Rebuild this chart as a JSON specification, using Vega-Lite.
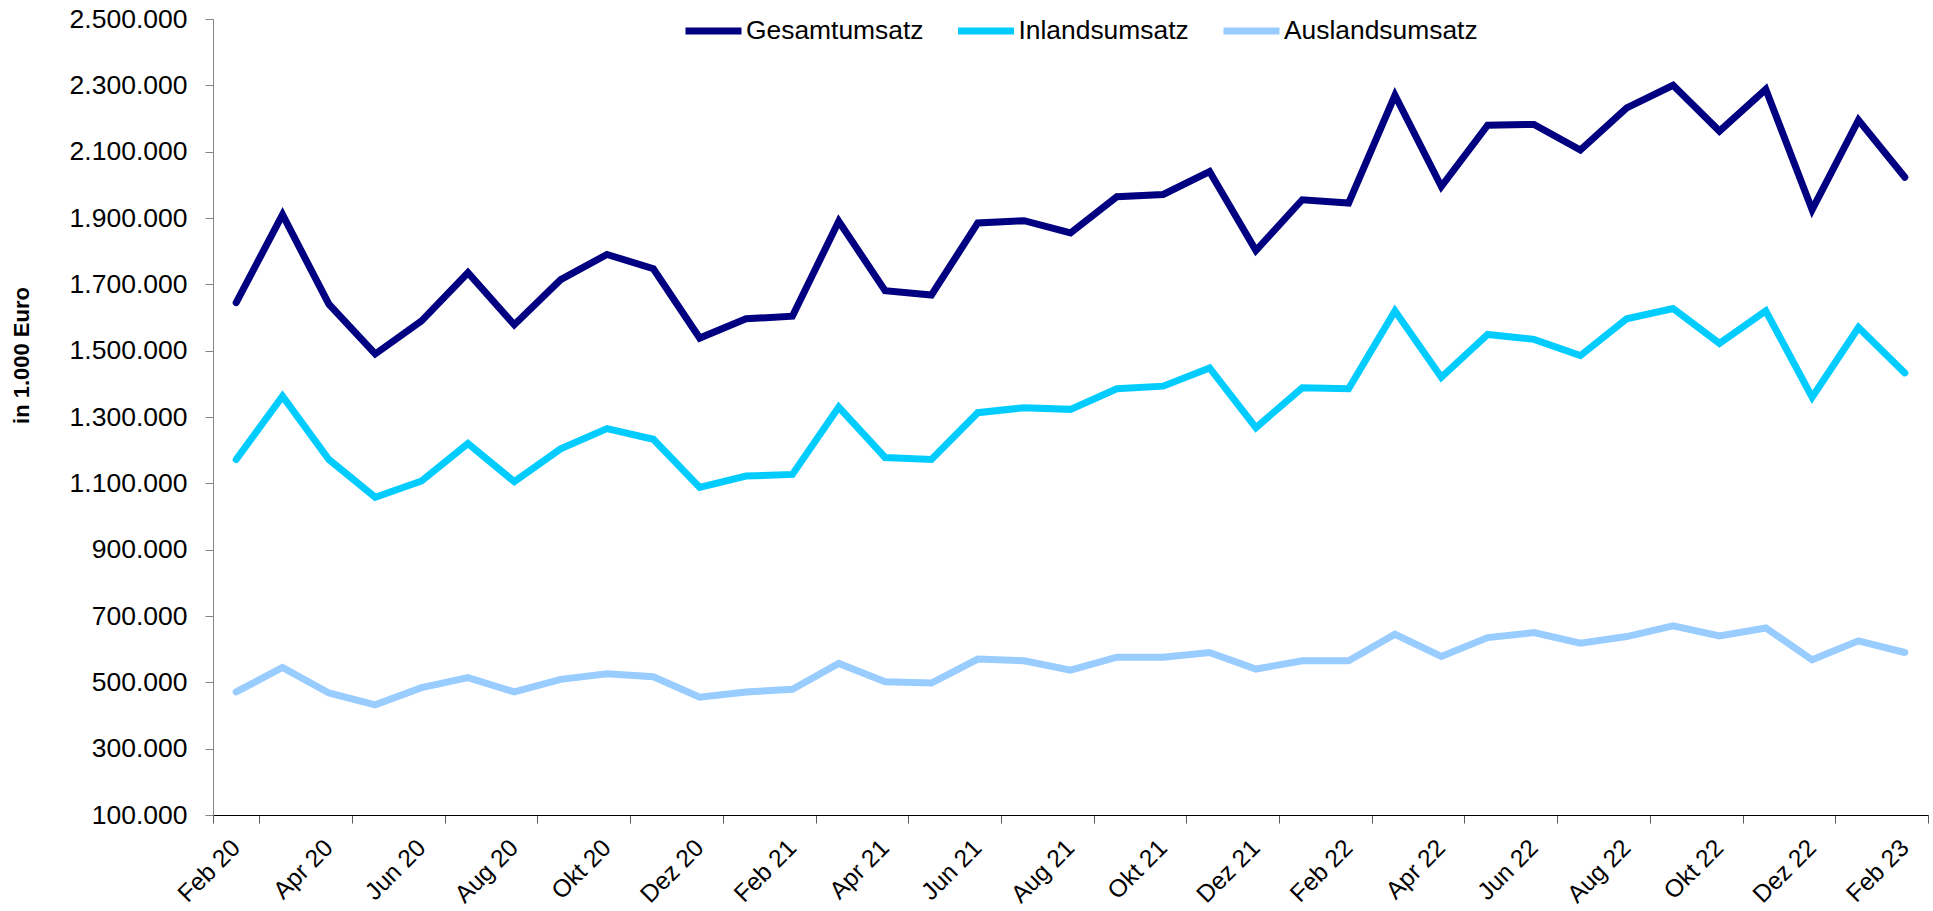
{
  "$schema": "https://vega.github.io/schema/vega-lite/v6.json",
  "width": 1715,
  "height": 796,
  "autosize": {"type": "none"},
  "padding": {"left": 213, "top": 19, "right": 5, "bottom": 96},
  "config": {
    "view": {"stroke": null},
    "font": "Liberation Sans",
    "locale": {"number": {"decimal": ",", "thousands": ".", "grouping": [3], "currency": ["", " €"]}}
  },
  "data": {
    "values": [
      {"Monat": "Feb 20", "Gesamtumsatz": 1645000, "Inlandsumsatz": 1172000, "Auslandsumsatz": 471000},
      {"Monat": "Mär 20", "Gesamtumsatz": 1910000, "Inlandsumsatz": 1363000, "Auslandsumsatz": 545000},
      {"Monat": "Apr 20", "Gesamtumsatz": 1640000, "Inlandsumsatz": 1172000, "Auslandsumsatz": 468000},
      {"Monat": "Mai 20", "Gesamtumsatz": 1490000, "Inlandsumsatz": 1058000, "Auslandsumsatz": 432000},
      {"Monat": "Jun 20", "Gesamtumsatz": 1590000, "Inlandsumsatz": 1107000, "Auslandsumsatz": 484000},
      {"Monat": "Jul 20", "Gesamtumsatz": 1735000, "Inlandsumsatz": 1220000, "Auslandsumsatz": 514000},
      {"Monat": "Aug 20", "Gesamtumsatz": 1578000, "Inlandsumsatz": 1105000, "Auslandsumsatz": 471000},
      {"Monat": "Sep 20", "Gesamtumsatz": 1714000, "Inlandsumsatz": 1204000, "Auslandsumsatz": 509000},
      {"Monat": "Okt 20", "Gesamtumsatz": 1790000, "Inlandsumsatz": 1265000, "Auslandsumsatz": 526000},
      {"Monat": "Nov 20", "Gesamtumsatz": 1747000, "Inlandsumsatz": 1233000, "Auslandsumsatz": 517000},
      {"Monat": "Dez 20", "Gesamtumsatz": 1538000, "Inlandsumsatz": 1088000, "Auslandsumsatz": 455000},
      {"Monat": "Jan 21", "Gesamtumsatz": 1596000, "Inlandsumsatz": 1122000, "Auslandsumsatz": 471000},
      {"Monat": "Feb 21", "Gesamtumsatz": 1604000, "Inlandsumsatz": 1127000, "Auslandsumsatz": 479000},
      {"Monat": "Mär 21", "Gesamtumsatz": 1890000, "Inlandsumsatz": 1330000, "Auslandsumsatz": 557000},
      {"Monat": "Apr 21", "Gesamtumsatz": 1681000, "Inlandsumsatz": 1178000, "Auslandsumsatz": 502000},
      {"Monat": "Mai 21", "Gesamtumsatz": 1668000, "Inlandsumsatz": 1172000, "Auslandsumsatz": 498000},
      {"Monat": "Jun 21", "Gesamtumsatz": 1885000, "Inlandsumsatz": 1313000, "Auslandsumsatz": 570000},
      {"Monat": "Jul 21", "Gesamtumsatz": 1892000, "Inlandsumsatz": 1328000, "Auslandsumsatz": 565000},
      {"Monat": "Aug 21", "Gesamtumsatz": 1855000, "Inlandsumsatz": 1323000, "Auslandsumsatz": 537000},
      {"Monat": "Sep 21", "Gesamtumsatz": 1964000, "Inlandsumsatz": 1385000, "Auslandsumsatz": 576000},
      {"Monat": "Okt 21", "Gesamtumsatz": 1971000, "Inlandsumsatz": 1393000, "Auslandsumsatz": 576000},
      {"Monat": "Nov 21", "Gesamtumsatz": 2040000, "Inlandsumsatz": 1448000, "Auslandsumsatz": 590000},
      {"Monat": "Dez 21", "Gesamtumsatz": 1802000, "Inlandsumsatz": 1268000, "Auslandsumsatz": 540000},
      {"Monat": "Jan 22", "Gesamtumsatz": 1955000, "Inlandsumsatz": 1388000, "Auslandsumsatz": 565000},
      {"Monat": "Feb 22", "Gesamtumsatz": 1945000, "Inlandsumsatz": 1385000, "Auslandsumsatz": 565000},
      {"Monat": "Mär 22", "Gesamtumsatz": 2270000, "Inlandsumsatz": 1620000, "Auslandsumsatz": 645000},
      {"Monat": "Apr 22", "Gesamtumsatz": 1995000, "Inlandsumsatz": 1420000, "Auslandsumsatz": 578000},
      {"Monat": "Mai 22", "Gesamtumsatz": 2180000, "Inlandsumsatz": 1549000, "Auslandsumsatz": 635000},
      {"Monat": "Jun 22", "Gesamtumsatz": 2182000, "Inlandsumsatz": 1534000, "Auslandsumsatz": 650000},
      {"Monat": "Jul 22", "Gesamtumsatz": 2105000, "Inlandsumsatz": 1485000, "Auslandsumsatz": 618000},
      {"Monat": "Aug 22", "Gesamtumsatz": 2232000, "Inlandsumsatz": 1596000, "Auslandsumsatz": 638000},
      {"Monat": "Sep 22", "Gesamtumsatz": 2300000, "Inlandsumsatz": 1627000, "Auslandsumsatz": 670000},
      {"Monat": "Okt 22", "Gesamtumsatz": 2162000, "Inlandsumsatz": 1522000, "Auslandsumsatz": 640000},
      {"Monat": "Nov 22", "Gesamtumsatz": 2288000, "Inlandsumsatz": 1620000, "Auslandsumsatz": 664000},
      {"Monat": "Dez 22", "Gesamtumsatz": 1925000, "Inlandsumsatz": 1360000, "Auslandsumsatz": 568000},
      {"Monat": "Jan 23", "Gesamtumsatz": 2195000, "Inlandsumsatz": 1570000, "Auslandsumsatz": 625000},
      {"Monat": "Feb 23", "Gesamtumsatz": 2023000, "Inlandsumsatz": 1433000, "Auslandsumsatz": 590000}
    ]
  },
  "transform": [
    {"fold": ["Gesamtumsatz", "Inlandsumsatz", "Auslandsumsatz"], "as": ["Reihe", "Wert"]}
  ],
  "mark": {"type": "line", "strokeWidth": 7, "strokeCap": "round", "strokeJoin": "miter"},
  "encoding": {
    "x": {
      "field": "Monat",
      "type": "ordinal",
      "sort": null,
      "bandPosition": 0.5,
      "scale": {"type": "band", "paddingInner": 0, "paddingOuter": 0},
      "axis": {
        "title": null,
        "values": ["Feb 20", "Apr 20", "Jun 20", "Aug 20", "Okt 20", "Dez 20", "Feb 21", "Apr 21", "Jun 21", "Aug 21", "Okt 21", "Dez 21", "Feb 22", "Apr 22", "Jun 22", "Aug 22", "Okt 22", "Dez 22", "Feb 23"],
        "labelAngle": -45,
        "labelAlign": "right",
        "labelBaseline": "middle",
        "labelFontSize": 24.5,
        "labelFont": "Liberation Sans",
        "labelColor": "#000000",
        "labelPadding": 21,
        "tickSize": 8,
        "tickBand": "extent",
        "tickExtra": false,
        "tickColor": "#595959",
        "domainColor": "#000000",
        "grid": false
      }
    },
    "y": {
      "field": "Wert",
      "type": "quantitative",
      "scale": {"domain": [100000, 2500000], "nice": false, "zero": false},
      "axis": {
        "title": "in 1.000 Euro",
        "values": [100000, 300000, 500000, 700000, 900000, 1100000, 1300000, 1500000, 1700000, 1900000, 2100000, 2300000, 2500000],
        "format": ",d",
        "labelFontSize": 26.5,
        "labelFont": "Liberation Sans",
        "labelColor": "#000000",
        "labelPadding": 18,
        "tickSize": 8,
        "tickColor": "#868686",
        "domainColor": "#868686",
        "grid": false,
        "titleFont": "Liberation Sans",
        "titleFontSize": 22,
        "titleFontWeight": "bold",
        "titleColor": "#000000",
        "titleAngle": -90,
        "titleX": -192,
        "titleY": 336,
        "titleAlign": "center",
        "titleBaseline": "middle"
      }
    },
    "color": {
      "field": "Reihe",
      "type": "nominal",
      "scale": {"domain": ["Gesamtumsatz", "Inlandsumsatz", "Auslandsumsatz"], "range": ["#000080", "#00CCFF", "#99CCFF"]},
      "legend": {
        "title": null,
        "orient": "none",
        "legendX": 469,
        "legendY": -19.5,
        "direction": "horizontal",
        "gridAlign": "none",
        "symbolType": "stroke",
        "symbolSize": 3136,
        "symbolStrokeWidth": 7,
        "labelFontSize": 26.4,
        "labelFont": "Liberation Sans",
        "labelColor": "#000000",
        "labelLimit": 0,
        "labelOffset": 1,
        "columnPadding": 19.5,
        "padding": 0
      }
    }
  }
}
